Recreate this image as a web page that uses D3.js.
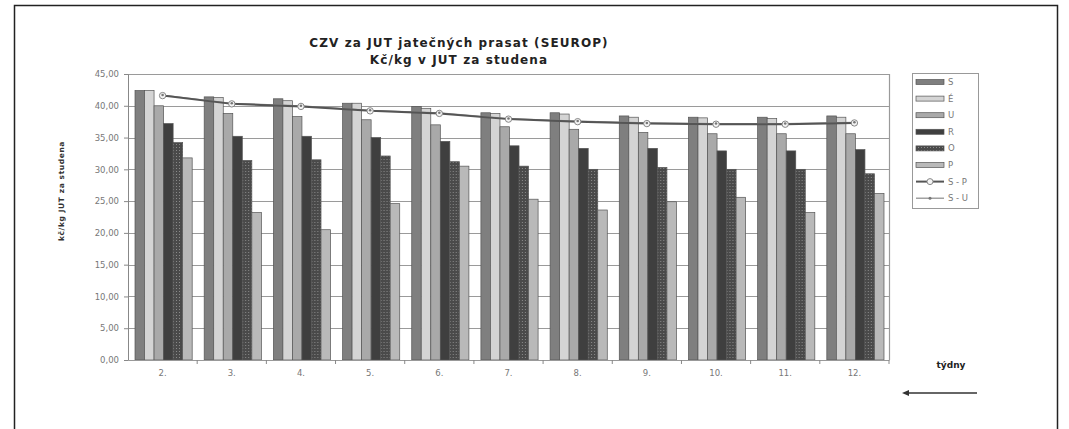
<!DOCTYPE html>
<html lang="cs">
<head>
<meta charset="UTF-8">
<title>CZV za JUT jatečných prasat</title>
<script src="https://d3js.org/d3.v7.min.js"></script>
<style>
  body { margin: 0; background: #fff; }
  svg { display: block; font-family: "DejaVu Sans", Verdana, sans-serif; }
</style>
</head>
<body>
<svg id="chart" width="1069" height="429"></svg>
<script>
const weeks = ["2.", "3.", "4.", "5.", "6.", "7.", "8.", "9.", "10.", "11.", "12."];
const classes = ["S", "É", "U", "R", "O", "P"];

const valS = [42.4, 41.4, 41.1, 40.4, 39.9, 38.9, 38.9, 38.4, 38.2, 38.2, 38.4];
const valE = [42.4, 41.3, 40.8, 40.4, 39.6, 38.8, 38.7, 38.2, 38.1, 38.0, 38.2];
const valU = [40.0, 38.8, 38.3, 37.8, 37.0, 36.7, 36.3, 35.8, 35.6, 35.6, 35.6];
const valR = [37.2, 35.2, 35.2, 35.0, 34.4, 33.7, 33.3, 33.3, 32.9, 32.9, 33.1];
const valO = [34.2, 31.4, 31.5, 32.1, 31.2, 30.5, 30.0, 30.3, 30.0, 30.0, 29.3];
const valP = [31.8, 23.2, 20.5, 24.6, 30.5, 25.3, 23.6, 24.9, 25.6, 23.2, 26.2];
const valSP = [41.6, 40.3, 39.9, 39.2, 38.8, 37.9, 37.5, 37.2, 37.1, 37.1, 37.3];
const valSU = [41.7, 40.4, 40.0, 39.3, 38.9, 38.0, 37.6, 37.3, 37.2, 37.2, 37.4];
const yTicks = [0, 5, 10, 15, 20, 25, 30, 35, 40, 45];

const barSeries = [valS, valE, valU, valR, valO, valP];
const barFill = ["#7f7f7f", "#d4d4d4", "#a9a9a9", "#3f3f3f", "#5e5e5e", "#b9b9b9"];

const svg = d3.select("#chart");
const plotL = 128, plotR = 889, plotT = 74, plotB = 360;

// outer frame
svg.append("rect").attr("x", 14.5).attr("y", 5.5).attr("width", 1043).attr("height", 440)
  .attr("fill", "none").attr("stroke", "#222").attr("stroke-width", 1.5);

// dotted pattern for class O
const defs = svg.append("defs");
const pat = defs.append("pattern").attr("id", "dots").attr("width", 3).attr("height", 3)
  .attr("patternUnits", "userSpaceOnUse");
pat.append("rect").attr("width", 3).attr("height", 3).attr("fill", "#4a4a4a");
pat.append("rect").attr("width", 1).attr("height", 1).attr("fill", "#8a8a8a");

const x = d3.scaleBand().domain(weeks).range([plotL, plotR]);
const xi = d3.scaleBand().domain(classes).range([7, x.bandwidth() - 5]);
const y = d3.scaleLinear().domain([0, 45]).range([plotB, plotT]);

// title
svg.append("text").attr("x", 459).attr("y", 47).attr("text-anchor", "middle")
  .attr("font-size", 12).attr("font-weight", "bold").attr("fill", "#222").attr("letter-spacing", 1.1)
  .text("CZV za JUT jatečných prasat (SEUROP)");
svg.append("text").attr("x", 459).attr("y", 64).attr("text-anchor", "middle")
  .attr("font-size", 12).attr("font-weight", "bold").attr("fill", "#222").attr("letter-spacing", 1.1)
  .text("Kč/kg v JUT za studena");

// gridlines
svg.append("g").selectAll("line").data(yTicks.slice(1)).join("line")
  .attr("x1", plotL).attr("x2", plotR)
  .attr("y1", d => Math.round(y(d)) + 0.5).attr("y2", d => Math.round(y(d)) + 0.5)
  .attr("stroke", "#9a9a9a").attr("stroke-width", 1.2);
svg.append("line").attr("x1", plotR + 0.5).attr("x2", plotR + 0.5).attr("y1", plotT).attr("y2", plotB)
  .attr("stroke", "#9a9a9a").attr("stroke-width", 1.2);

// y axis
const yAxis = svg.append("g").attr("transform", `translate(${plotL},0)`)
  .call(d3.axisLeft(y).tickValues(yTicks).tickSize(4).tickPadding(5)
    .tickFormat(d => d3.format(".2f")(d).replace(".", ",")));
yAxis.selectAll("text").attr("font-size", 8.5).attr("fill", "#777").attr("font-family", "DejaVu Sans");
yAxis.selectAll("line, path").attr("stroke", "#888");

// y label
svg.append("text").attr("transform", "translate(64,191) rotate(-90)").attr("text-anchor", "middle")
  .attr("font-size", 7.5).attr("font-weight", "bold").attr("fill", "#333").attr("letter-spacing", 0.6)
  .text("kč/kg  JUT za studena");

// bars
weeks.forEach((w, i) => {
  const g = svg.append("g").attr("transform", `translate(${x(w)},0)`);
  g.selectAll("rect").data(barSeries.map((s, k) => ({ c: classes[k], v: s[i], k }))).join("rect")
    .attr("x", d => xi(d.c)).attr("width", xi.bandwidth())
    .attr("y", d => y(d.v)).attr("height", d => y(0) - y(d.v))
    .attr("fill", d => d.k === 4 ? "url(#dots)" : barFill[d.k])
    .attr("stroke", "#555").attr("stroke-width", 0.7);
});

// x axis
const xAxis = svg.append("g").attr("transform", `translate(0,${plotB})`)
  .call(d3.axisBottom(x).tickSize(0).tickPadding(10));
xAxis.selectAll("text").attr("font-size", 8.5).attr("fill", "#777").attr("font-family", "DejaVu Sans");
xAxis.select("path").attr("stroke", "#999");
svg.append("g").selectAll("line").data(weeks.slice(1).concat(["end"])).join("line")
  .attr("x1", d => d === "end" ? plotR : x(d)).attr("x2", d => d === "end" ? plotR : x(d))
  .attr("y1", plotB).attr("y2", plotB + 4).attr("stroke", "#888");

// lines
const lineGen = d3.line().x((d, i) => x(weeks[i]) + x.bandwidth() / 2).y(d => y(d));
svg.append("path").datum(valSU).attr("d", lineGen).attr("fill", "none")
  .attr("stroke", "#8a8a8a").attr("stroke-width", 1.2);
svg.append("path").datum(valSP).attr("d", lineGen).attr("fill", "none")
  .attr("stroke", "#555").attr("stroke-width", 2);
svg.append("g").selectAll("circle").data(valSP).join("circle")
  .attr("cx", (d, i) => x(weeks[i]) + x.bandwidth() / 2).attr("cy", d => y(d)).attr("r", 3.2)
  .attr("fill", "#f4f4f4").attr("stroke", "#888").attr("stroke-width", 1);
svg.append("g").selectAll("circle").data(valSU).join("circle")
  .attr("cx", (d, i) => x(weeks[i]) + x.bandwidth() / 2).attr("cy", d => y(d)).attr("r", 1.3)
  .attr("fill", "#777");

// legend
const leg = svg.append("g");
leg.append("rect").attr("x", 912.5).attr("y", 73.5).attr("width", 66).attr("height", 135)
  .attr("fill", "#fff").attr("stroke", "#999");
const legNames = classes.concat(["S - P", "S - U"]);
legNames.forEach((n, k) => {
  const ly = 82 + k * 16.6;
  if (k < 6) {
    leg.append("rect").attr("x", 916).attr("y", ly - 2.5).attr("width", 28).attr("height", 5)
      .attr("fill", k === 4 ? "url(#dots)" : barFill[k]).attr("stroke", "#555").attr("stroke-width", 0.7);
  } else if (k === 6) {
    leg.append("line").attr("x1", 916).attr("x2", 944).attr("y1", ly).attr("y2", ly)
      .attr("stroke", "#555").attr("stroke-width", 2);
    leg.append("circle").attr("cx", 930).attr("cy", ly).attr("r", 3)
      .attr("fill", "#f4f4f4").attr("stroke", "#888");
  } else {
    leg.append("line").attr("x1", 916).attr("x2", 944).attr("y1", ly).attr("y2", ly)
      .attr("stroke", "#8a8a8a").attr("stroke-width", 1.2);
    leg.append("circle").attr("cx", 930).attr("cy", ly).attr("r", 1.5).attr("fill", "#777");
  }
  leg.append("text").attr("x", 948).attr("y", ly + 3).attr("font-size", 8.5).attr("fill", "#777").text(n);
});

// týdny + arrow
svg.append("text").attr("x", 951).attr("y", 368).attr("text-anchor", "middle")
  .attr("font-size", 9).attr("font-weight", "bold").attr("fill", "#222").text("týdny");
svg.append("line").attr("x1", 906).attr("x2", 977).attr("y1", 393).attr("y2", 393)
  .attr("stroke", "#333").attr("stroke-width", 1.5);
svg.append("path").attr("d", "M902,393 L909,390 L909,396 Z").attr("fill", "#333");
</script>
</body>
</html>
